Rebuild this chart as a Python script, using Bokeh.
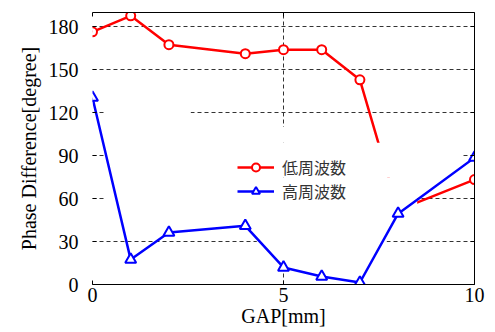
from bokeh.plotting import figure
from bokeh.models import Range1d, FixedTicker, LinearAxis, Legend, LegendItem
from bokeh.embed import file_html
from bokeh.resources import INLINE

# ---- data ----
gap = [0, 1, 2, 4, 5, 6, 7, 8, 10]
low_freq = [176.5, 187.7, 167.5, 161.2, 164.0, 164.0, 143.0, 52.0, 73.3]
high_freq = [130.5, 17.4, 36.3, 41.0, 11.9, 5.6, 1.4, 49.5, 88.6]
x_ticks = [0, 5, 10]
y_ticks = [0, 30, 60, 90, 120, 150, 180]
series_names = ["低周波数", "高周波数"]
x_title = "GAP[mm]"
y_title = "Phase Difference[degree]"

# white occluding background of the original legend (hides grid / part of red curve)
mask_left = [0.33, 0.33, 2.57, 0.33, 4.3]
mask_right = [9.7, 2.57, 5.5, 8.5, 7.7]
mask_bottom = [75, 99, 99, 45, 8]
mask_top = [99, 125, 110, 75, 50]

SERIF = "Liberation Serif"

W, H = 490, 330
p = figure(width=W, height=H, x_range=Range1d(0, 10), y_range=Range1d(0, 190),
           output_backend="svg", toolbar_location=None,
           min_border_left=92, min_border_right=W - 474, min_border_top=12,
           min_border_bottom=H - 284)
p.outline_line_color = None
p.background_fill_color = "white"
p.border_fill_color = "white"

# grid
for g in (p.xgrid, p.ygrid):
    g.level = "image"
    g.grid_line_color = "#333333"
    g.grid_line_dash = "4 3"
    g.grid_line_width = 1
p.xgrid.ticker = FixedTicker(ticks=x_ticks)
p.ygrid.ticker = FixedTicker(ticks=y_ticks)

# main axes
p.xaxis.ticker = FixedTicker(ticks=x_ticks)
p.yaxis.ticker = FixedTicker(ticks=y_ticks)
for ax in (p.xaxis[0], p.yaxis[0]):
    ax.major_tick_in = 4
    ax.major_tick_out = 0
    ax.minor_tick_line_color = None
    ax.major_label_text_font = SERIF
    ax.major_label_text_font_size = "20px"
    ax.major_label_text_color = "black"
    ax.axis_label_text_font = SERIF
    ax.axis_label_text_font_size = "20px"
    ax.axis_label_text_font_style = "normal"
    ax.axis_label_text_color = "black"
    ax.axis_line_color = "black"
    ax.major_tick_line_color = "black"
p.xaxis.axis_label = x_title
p.yaxis.axis_label = y_title
p.xaxis.major_label_standoff = 3
p.xaxis.axis_label_standoff = 0
p.yaxis.major_label_standoff = 14
p.yaxis.axis_label_standoff = 6
p.yaxis.axis_line_color = None

# box axes (right / top): ticks only, no labels
for loc, tk in (("right", y_ticks), ("above", x_ticks)):
    ax = LinearAxis(ticker=FixedTicker(ticks=[], minor_ticks=tk))
    ax.major_tick_line_color = None
    ax.minor_tick_in = 4
    ax.minor_tick_out = 0
    ax.minor_tick_line_color = "black"
    ax.major_label_standoff = 0
    ax.axis_line_color = "black"
    p.add_layout(ax, loc)

# red series
r_line = p.line(gap, low_freq, line_color="#ff0000", line_width=2.5)
r_pts = p.scatter(gap, low_freq, marker="circle", size=9, line_color="#ff0000",
                  line_width=2, fill_color="white")

# occluding white boxes
p.quad(left=mask_left, right=mask_right, bottom=mask_bottom, top=mask_top,
       fill_color="white", line_color=None)

# blue series
b_line = p.line(gap, high_freq, line_color="#0000ff", line_width=2.5)
b_pts = p.scatter(gap, high_freq, marker="triangle", size=11, line_color="#0000ff",
                  line_width=2, fill_color="white")


def make_legend(label, rends, y):
    lg = Legend(items=[LegendItem(label=label, renderers=rends)], location=(145, y))
    lg.background_fill_alpha = 0
    lg.border_line_color = None
    lg.padding = 0
    lg.margin = 0
    lg.spacing = 0
    lg.glyph_width = 37
    lg.glyph_height = 20
    lg.label_height = 20
    lg.label_standoff = 8
    lg.label_text_font = "Noto Sans CJK JP"
    lg.label_text_font_size = "16px"
    lg.label_text_color = "#333333"
    return lg


p.add_layout(make_legend(series_names[0], [r_line, r_pts], 105), "center")
p.add_layout(make_legend(series_names[1], [b_line, b_pts], 81), "center")

open("out.html", "w").write(file_html(p, INLINE))
